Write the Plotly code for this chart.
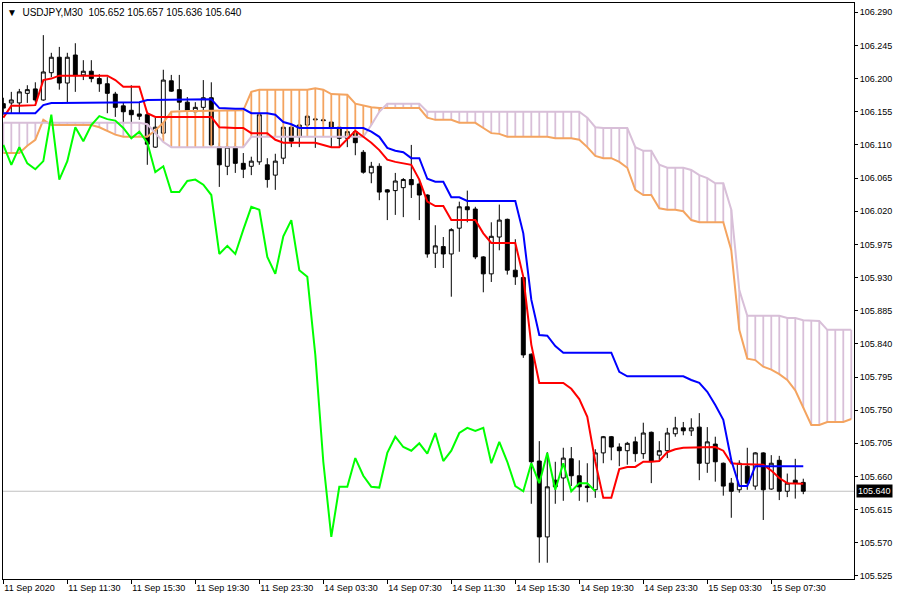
import plotly.graph_objects as go

# ---------------- data ----------------
opens = [106.166,106.167,106.167,106.180,106.186,106.171,106.208,106.229,106.194,106.232,
         106.205,106.210,106.200,106.193,106.179,106.163,106.157,106.152,106.151,106.107,
         106.126,106.197,106.185,106.168,106.155,106.161,106.174,106.107,106.081,106.107,
         106.085,106.081,106.087,106.083,106.069,106.092,106.134,106.121,106.137,106.144,
         106.144,106.141,106.134,106.119,106.128,106.100,106.072,106.081,106.049,106.048,
         106.052,106.063,106.057,106.042,105.963,105.972,105.962,105.997,106.026,106.023,
         105.958,105.935,105.985,106.009,105.940,105.930,105.826,105.681,105.578,105.655,
         105.658,105.684,105.661,105.647,105.642,105.692,105.714,105.700,105.695,105.707,
         105.691,105.720,105.689,105.695,105.718,105.726,105.722,105.727,105.678,105.704,
         105.678,105.651,105.642,105.674,105.647,105.692,105.643,105.682,105.640,105.655,
         105.652]
highs = [106.174,106.182,106.186,106.191,106.195,106.259,106.235,106.243,106.235,106.248,
         106.225,106.225,106.206,106.202,106.182,106.167,106.191,106.168,106.155,106.147,
         106.212,106.205,106.205,106.175,106.168,106.198,106.195,106.113,106.113,106.113,
         106.099,106.094,106.152,106.092,106.098,106.135,106.140,106.144,106.151,106.147,
         106.147,106.142,106.135,106.133,106.134,106.103,106.087,106.085,106.050,106.072,
         106.065,106.110,106.063,106.043,106.001,105.985,105.997,106.033,106.048,106.026,
         105.959,106.005,106.029,106.010,105.982,105.931,105.827,105.708,105.693,105.680,
         105.699,105.700,105.682,105.678,105.697,105.715,105.715,105.705,105.707,105.714,
         105.733,105.721,105.708,105.726,105.741,105.734,105.739,105.746,105.727,105.714,
         105.679,105.658,105.682,105.699,105.693,105.693,105.689,105.688,105.664,105.684,
         105.657]
lows = [106.151,106.153,106.153,106.167,106.168,106.170,106.202,106.185,106.168,106.182,
        106.198,106.195,106.182,106.153,106.148,106.141,106.141,106.144,106.083,106.106,
        106.121,106.182,106.157,106.151,106.151,106.153,106.106,106.053,106.069,106.072,
        106.065,106.069,106.083,106.052,106.049,106.084,106.107,106.107,106.134,106.106,
        106.138,106.107,106.106,106.107,106.096,106.071,106.058,106.035,106.008,106.015,
        106.012,106.038,106.008,105.957,105.943,105.943,105.904,105.965,106.005,105.955,
        105.910,105.924,105.967,105.934,105.920,105.821,105.623,105.543,105.543,105.623,
        105.627,105.647,105.627,105.625,105.631,105.678,105.682,105.674,105.676,105.680,
        105.684,105.651,105.682,105.685,105.714,105.716,105.715,105.655,105.665,105.653,
        105.634,105.604,105.638,105.642,105.642,105.601,105.642,105.628,105.632,105.630,
        105.636]
closes = [106.160,106.171,106.182,106.185,106.171,106.209,106.229,106.194,106.229,106.204,
          106.210,106.200,106.193,106.180,106.161,106.155,106.151,106.149,106.111,106.134,
          106.198,106.183,106.168,106.156,106.161,106.174,106.110,106.083,106.107,106.085,
          106.077,106.088,106.151,106.063,106.088,106.134,106.115,106.137,106.149,106.145,
          106.143,106.133,106.119,106.128,106.113,106.073,106.081,106.046,106.046,106.061,
          106.063,106.056,106.042,105.962,105.973,105.962,105.995,106.026,106.022,105.958,
          105.935,105.986,106.008,105.940,105.931,105.825,105.680,105.578,105.646,105.646,
          105.685,105.661,105.646,105.645,105.692,105.714,105.700,105.695,105.705,105.691,
          105.719,105.681,105.695,105.719,105.726,105.722,105.726,105.678,105.707,105.680,
          105.647,105.640,105.678,105.651,105.692,105.642,105.678,105.640,105.651,105.651,
          105.640]

tenkan = [106.147,106.163,106.163,106.163,106.164,106.198,106.200,106.204,106.204,106.204,
          106.204,106.204,106.204,106.204,106.198,106.189,106.189,106.189,106.153,106.148,
          106.148,106.148,106.148,106.148,106.148,106.148,106.148,106.134,106.133,106.133,
          106.133,106.126,106.126,106.126,106.117,106.113,106.113,106.113,106.113,106.113,
          106.110,106.107,106.107,106.118,106.129,106.121,106.113,106.103,106.090,106.087,
          106.085,106.083,106.063,106.033,106.027,106.027,106.008,106.008,106.008,106.008,
          105.990,105.977,105.977,105.977,105.977,105.931,105.839,105.787,105.787,105.787,
          105.787,105.779,105.765,105.741,105.680,105.631,105.631,105.670,105.673,105.673,
          105.680,105.680,105.681,105.693,105.697,105.699,105.699,105.700,105.700,105.700,
          105.695,105.678,105.677,105.677,105.677,105.676,105.668,105.658,105.651,105.650,
          105.650]
kijun = [106.153,106.153,106.153,106.153,106.153,106.164,106.167,106.167,106.167,106.167,
         106.167,106.167,106.168,106.168,106.168,106.168,106.168,106.168,106.171,106.171,
         106.171,106.171,106.171,106.171,106.171,106.171,106.172,106.160,106.159,106.159,
         106.159,106.153,106.153,106.153,106.151,106.141,106.138,106.133,106.133,106.133,
         106.133,106.133,106.133,106.133,106.133,106.133,106.128,106.121,106.106,106.102,
         106.100,106.092,106.092,106.064,106.060,106.060,106.039,106.039,106.034,106.034,
         106.034,106.034,106.034,106.034,106.034,105.990,105.900,105.852,105.851,105.837,
         105.828,105.828,105.828,105.828,105.828,105.828,105.828,105.802,105.796,105.796,
         105.796,105.796,105.796,105.796,105.796,105.796,105.791,105.787,105.775,105.757,
         105.737,105.682,105.647,105.647,105.674,105.674,105.674,105.674,105.674,105.674,
         105.674]
span_a = [106.099,106.099,106.099,106.109,106.117,106.144,106.137,106.137,106.137,106.137,
          106.137,106.137,106.134,106.129,106.124,106.121,106.121,106.121,106.121,106.130,
          106.140,106.155,106.156,106.156,106.156,106.156,106.156,106.157,106.157,106.157,
          106.157,106.182,106.185,106.185,106.185,106.185,106.185,106.185,106.185,106.187,
          106.185,106.179,106.178,106.178,106.166,106.163,106.161,106.160,106.160,106.160,
          106.160,106.160,106.160,106.147,106.144,106.144,106.144,106.140,106.140,106.140,
          106.133,106.126,106.125,106.121,106.121,106.121,106.121,106.121,106.121,106.119,
          106.119,106.119,106.117,106.107,106.095,106.092,106.092,106.087,106.079,106.049,
          106.042,106.042,106.024,106.022,106.022,106.020,106.008,106.005,106.005,106.005,
          106.005,105.967,105.859,105.820,105.818,105.809,105.805,105.799,105.791,105.777,
          105.753,105.730,105.730,105.734,105.734,105.734,105.738]
span_b = [106.140,106.140,106.140,106.140,106.140,106.140,106.140,106.140,106.140,106.140,
          106.140,106.140,106.140,106.140,106.140,106.140,106.140,106.140,106.138,106.126,
          106.114,106.107,106.107,106.107,106.107,106.107,106.107,106.107,106.107,106.107,
          106.107,106.121,106.121,106.121,106.121,106.121,106.121,106.121,106.121,106.121,
          106.121,106.121,106.121,106.121,106.121,106.121,106.137,106.155,106.166,106.166,
          106.166,106.166,106.166,106.155,106.155,106.155,106.155,106.155,106.155,106.155,
          106.155,106.155,106.155,106.155,106.155,106.155,106.155,106.155,106.155,106.155,
          106.155,106.155,106.155,106.147,106.134,106.133,106.133,106.133,106.133,106.107,
          106.102,106.102,106.083,106.079,106.079,106.079,106.076,106.069,106.065,106.058,
          106.058,106.022,105.913,105.878,105.878,105.878,105.878,105.878,105.875,105.875,
          105.872,105.871,105.871,105.859,105.859,105.859,105.859]

tick_labels = ["11 Sep 2020", "11 Sep 11:30", "11 Sep 15:30", "11 Sep 19:30", "11 Sep 23:30",
               "14 Sep 03:30", "14 Sep 07:30", "14 Sep 11:30", "14 Sep 15:30", "14 Sep 19:30",
               "14 Sep 23:30", "15 Sep 03:30", "15 Sep 07:30"]
tick_bars = [0, 8, 16, 24, 32, 40, 48, 56, 64, 72, 80, 88, 96]
price_ticks = [106.290, 106.245, 106.200, 106.155, 106.110, 106.065, 106.020, 105.975, 105.930,
               105.885, 105.840, 105.795, 105.750, 105.705, 105.660, 105.615, 105.570, 105.525]
symbol = "USDJPY,M30"
shift = 26
bid = closes[-1]

# ---------------- figure ----------------
n = len(closes)
bars = list(range(n))
cloud_x = list(range(len(span_a)))
FONT = "Liberation Sans"

fig = go.Figure()

# cloud hatching
up_x, up_y, dn_x, dn_y = [], [], [], []
for i, a, b in zip(cloud_x, span_a, span_b):
    if a >= b:
        up_x += [i, i, None]; up_y += [a, b, None]
    else:
        dn_x += [i, i, None]; dn_y += [a, b, None]
fig.add_trace(go.Scatter(x=up_x, y=up_y, mode="lines", line=dict(color="#F4A460", width=1.8),
                         hoverinfo="skip"))
fig.add_trace(go.Scatter(x=dn_x, y=dn_y, mode="lines", line=dict(color="#D8BFD8", width=1.8),
                         hoverinfo="skip"))
fig.add_trace(go.Scatter(x=cloud_x, y=span_a, mode="lines", line=dict(color="#F4A460", width=2)))
fig.add_trace(go.Scatter(x=cloud_x, y=span_b, mode="lines", line=dict(color="#D8BFD8", width=2)))

fig.add_trace(go.Candlestick(
    x=bars, open=opens, high=highs, low=lows, close=closes,
    increasing=dict(line=dict(color="black", width=1), fillcolor="white"),
    decreasing=dict(line=dict(color="black", width=1), fillcolor="black"),
    whiskerwidth=0))

fig.add_trace(go.Scatter(x=bars, y=tenkan, mode="lines", line=dict(color="#FF0000", width=2)))
fig.add_trace(go.Scatter(x=bars, y=kijun, mode="lines", line=dict(color="#0000FF", width=2)))
fig.add_trace(go.Scatter(x=[i - shift for i in bars[shift:]], y=closes[shift:], mode="lines",
                         line=dict(color="#00FF00", width=2)))

fig.add_shape(type="line", xref="paper", x0=0, x1=1, yref="y", y0=bid, y1=bid,
              line=dict(color="#C0C0C0", width=1), layer="below")

fig.add_annotation(xref="paper", yref="y", x=1.0, y=bid, xanchor="left", yanchor="middle",
                   text=f"{bid:.3f}", showarrow=False, xshift=2,
                   font=dict(family=FONT, size=9, color="white"),
                   bgcolor="black", borderpad=1)
fig.add_annotation(xref="paper", yref="paper", x=0, y=1, xanchor="left", yanchor="top",
                   xshift=2, yshift=-2, showarrow=False,
                   text=f"▼  {symbol}  {opens[-1]:.3f} {highs[-1]:.3f} {lows[-1]:.3f} {closes[-1]:.3f}",
                   font=dict(family=FONT, size=10, color="black"))

fig.update_layout(
    width=900, height=600, showlegend=False,
    margin=dict(l=3, r=46, t=3, b=21),
    paper_bgcolor="white", plot_bgcolor="white",
    xaxis=dict(range=[-0.04, 106.34], tickvals=tick_bars, ticktext=tick_labels,
               ticks="outside", ticklen=4, tickcolor="black", ticklabelposition="outside right",
               tickangle=0, automargin=False,
               showline=True, mirror=True, linecolor="black", linewidth=1,
               showgrid=False, zeroline=False, rangeslider=dict(visible=False),
               tickfont=dict(family=FONT, size=9, color="black")),
    yaxis=dict(range=[105.5209, 106.3026], side="right", tickvals=price_ticks,
               ticktext=[f"{v:.3f}" for v in price_ticks], automargin=False,
               ticks="outside", ticklen=3, tickcolor="black",
               showline=True, mirror=True, linecolor="black", linewidth=1,
               showgrid=False, zeroline=False,
               tickfont=dict(family=FONT, size=9, color="black")),
)

fig.write_html("out.html", config={"displayModeBar": False},
               post_script="document.body.style.margin='0';document.body.style.overflow='hidden';")
